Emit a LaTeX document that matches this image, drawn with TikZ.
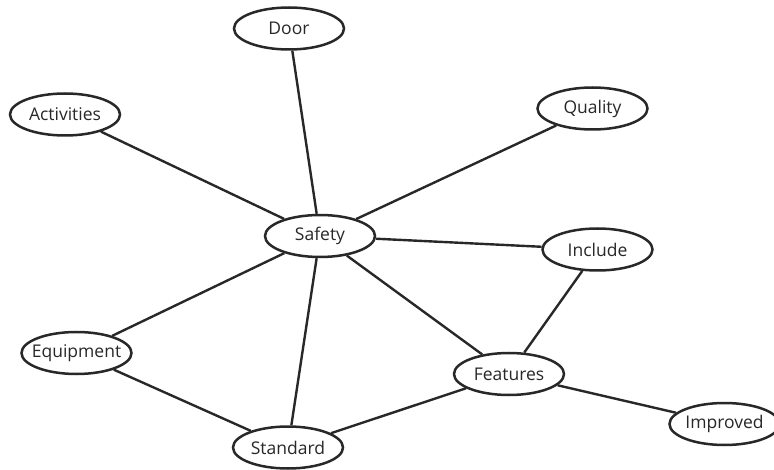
\documentclass[tikz,border=0pt]{standalone}
\usepackage{fontspec}
\setmainfont{Open Sans}
\usetikzlibrary{shapes.geometric}

\definecolor{inkgray}{RGB}{40,40,40}
\newcommand{\ctext}[1]{\makebox[0pt]{#1}}

\tikzset{
  concept/.style={ellipse,draw=inkgray,line width=2.5pt,fill=white,
    minimum width=110pt,minimum height=42pt,inner sep=0pt,
    text=inkgray,font=\fontsize{17.5}{20}\selectfont},
  link/.style={draw=inkgray,line width=2.4pt}
}

\begin{document}
\begin{tikzpicture}[x=1pt,y=-1pt]
\useasboundingbox (0,0) rectangle (774,470);
\clip (0,0) rectangle (774,470);

% Concepts
\node[concept] (door) at (289,28.5) {\ctext{Door}};
\node[concept] (activities) at (65,114.5) {\ctext{Activities}};
\node[concept] (quality) at (592.5,108.5) {\ctext{Quality}};
\node[concept] (safety) at (320,236) {\ctext{Safety}};
\node[concept] (include) at (597.5,249.5) {\ctext{Include}};
\node[concept] (equipment) at (76.5,353) {\ctext{Equipment}};
\node[concept] (features) at (509,374) {\ctext{Features}};
\node[concept] (standard) at (288,447.5) {\ctext{Standard}};
\node[concept] (improved) at (724.5,424) {\ctext{Improved}};

% Links
\draw[link] (door) -- (safety);
\draw[link] (activities) -- (safety);
\draw[link] (quality) -- (safety);
\draw[link] (safety) -- (include);
\draw[link] (safety) -- (equipment);
\draw[link] (safety) -- (standard);
\draw[link] (safety) -- (features);
\draw[link] (include) -- (features);
\draw[link] (equipment) -- (standard);
\draw[link] (standard) -- (features);
\draw[link] (features) -- (improved);

\end{tikzpicture}
\end{document}
